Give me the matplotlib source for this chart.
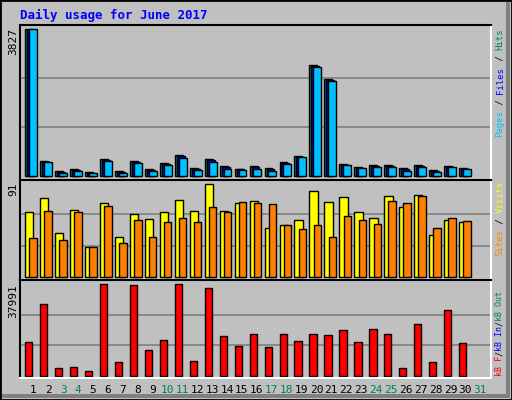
import matplotlib
matplotlib.use("Agg")
import matplotlib.pyplot as plt
from matplotlib.patches import Rectangle

# ── Data ─────────────────────────────────────────────────────────────────────
days = list(range(1, 31))
hits = [3827, 398, 139, 199, 113, 450, 139, 398, 199, 346, 554, 216, 450, 268,
        199, 268, 216, 372, 528, 2892, 2529, 320, 242, 294, 294, 216, 294, 165,
        268, 216]
files = [3800, 385, 125, 180, 100, 430, 120, 380, 180, 330, 520, 200, 420, 240,
         185, 245, 190, 350, 515, 2870, 2505, 310, 230, 270, 270, 190, 270, 140,
         255, 200]
pages = [3827, 372, 87, 139, 87, 398, 87, 346, 139, 294, 476, 165, 372, 190,
         165, 190, 139, 320, 502, 2840, 2477, 294, 216, 242, 242, 139, 242, 113,
         242, 190]
visits = [63, 77, 43, 65, 29, 72, 39, 61, 56, 63, 75, 64, 90, 64, 72, 74, 47,
          50, 55, 83, 73, 78, 63, 57, 79, 68, 80, 41, 55, 53]
sites = [38, 64, 36, 63, 29, 69, 33, 55, 39, 53, 57, 53, 68, 63, 73, 72, 71,
         50, 46, 50, 39, 59, 55, 51, 74, 72, 79, 47, 57, 54]
kbytes = [13865, 29672, 3050, 3466, 1800, 37991, 5546, 37575, 10538, 14697,
          37991, 5962, 36327, 16361, 12201, 17193, 11785, 17193, 14281, 17193,
          16777, 18857, 13865, 19273, 17193, 3050, 21353, 5546, 27176, 13449]
weekend_days = [3, 4, 10, 11, 17, 18, 24, 25, 31]
title = "Daily usage for June 2017"

# ── Style ─────────────────────────────────────────────────────────────────────
BG = "#C0C0C0"
GRID = "#808080"
C_HITS, C_FILES, C_PAGES = "#00805C", "#0000FF", "#00C0FF"
C_VISITS, C_SITES, C_KBF = "#FFFF00", "#FF8000", "#FF0000"
C_WEEKEND = "#00805C"
MONO = "DejaVu Sans Mono"
W, H = 512, 400

fig = plt.figure(figsize=(W / 100, H / 100), dpi=100)
fig.patch.set_facecolor(BG)
fig.add_artist(Rectangle((0, 0), 1, 1, transform=fig.transFigure, fill=False,
                         edgecolor="black", lw=2))
fig.add_artist(Rectangle((506 / W, 2 / H), 4 / W, 396 / H, transform=fig.transFigure,
                         facecolor="#808080", edgecolor="none"))
fig.add_artist(Rectangle((2 / W, 2 / H), 508 / W, 4 / H, transform=fig.transFigure,
                         facecolor="#808080", edgecolor="none"))


def panel(top_px, bot_px):
    ax = fig.add_axes([20 / W, 1 - bot_px / H, 471 / W, (bot_px - top_px) / H])
    ax.set_facecolor(BG)
    ax.set_xlim(0.13, 31.6)
    ax.set_xticks([])
    ax.set_yticks([])
    for side in ("top", "left"):
        ax.spines[side].set_color("black")
    for side in ("bottom", "right"):
        ax.spines[side].set_color("white")
    for s in ax.spines.values():
        s.set_linewidth(1.5)
    return ax


def grid(ax, top):
    for f in (1 / 3, 2 / 3):
        ax.axhline(top * f, color=GRID, lw=1.2, zorder=0)


# top panel: hits / files / pages
ax1 = panel(25, 180)
ax1.set_ylim(-91, 3931)
grid(ax1, 3827)
ax1.bar([d - 0.53 for d in days], hits, width=0.53, align="edge", color=C_HITS,
        edgecolor="black", lw=1, zorder=2)
ax1.bar([d - 0.40 for d in days], files, width=0.53, align="edge", color=C_FILES,
        edgecolor="black", lw=1, zorder=3)
ax1.bar([d - 0.27 for d in days], pages, width=0.53, align="edge", color=C_PAGES,
        edgecolor="black", lw=1, zorder=4)

# middle panel: visits / sites
ax2 = panel(180, 280)
ax2.set_ylim(-3.2, 94.2)
grid(ax2, 91)
ax2.bar([d - 0.53 for d in days], visits, width=0.55, align="edge", color=C_VISITS,
        edgecolor="black", lw=1, zorder=2)
ax2.bar([d - 0.25 for d in days], sites, width=0.5, align="edge", color=C_SITES,
        edgecolor="black", lw=1, zorder=3)

# bottom panel: kB F
ax3 = panel(280, 378)
ax3.set_ylim(-957, 39822)
grid(ax3, 37991)
ax3.bar([d - 0.53 for d in days], kbytes, width=0.48, align="edge", color=C_KBF,
        edgecolor="black", lw=1, zorder=2)

# ── Texts ─────────────────────────────────────────────────────────────────────
fig.text(20 / W, 1 - 15 / H, title, color="#0000FF", family=MONO,
         fontweight="bold", fontsize=9, va="center", ha="left")

for label, top_px in (("3827", 28), ("91", 183), ("37991", 284)):
    fig.text(13 / W, 1 - top_px / H, label, rotation=90, family=MONO, fontsize=8,
             va="top", ha="center", color="black")

for d in range(1, 32):
    xpx = 33.3 + (d - 1) * 14.9
    fig.text(xpx / W, 1 - 390 / H, str(d), family=MONO, fontsize=8, ha="center",
             va="center", color=C_WEEKEND if d in weekend_days else "black")


def side_label(parts, bottom_px, fs):
    char = 0.602 * fs * 100 / 72
    y = bottom_px
    for txt, col in parts:
        fig.text(500 / W, 1 - y / H, txt, rotation=90, family=MONO, fontsize=fs,
                 color=col, ha="center", va="bottom")
        y -= char * len(txt)


side_label([("Pages", C_PAGES), (" / ", "black"), ("Files", C_FILES),
            (" / ", "black"), ("Hits", C_HITS)], 137, 6.5)
side_label([("Sites", C_SITES), (" / ", "black"), ("Visits", C_VISITS)], 256, 6.5)
side_label([("kB F", C_KBF), ("/", "black"), ("kB In", C_FILES),
            ("/", "black"), ("kB Out", C_HITS)], 376, 6)

fig.savefig("out.png", dpi=100, facecolor=BG)
